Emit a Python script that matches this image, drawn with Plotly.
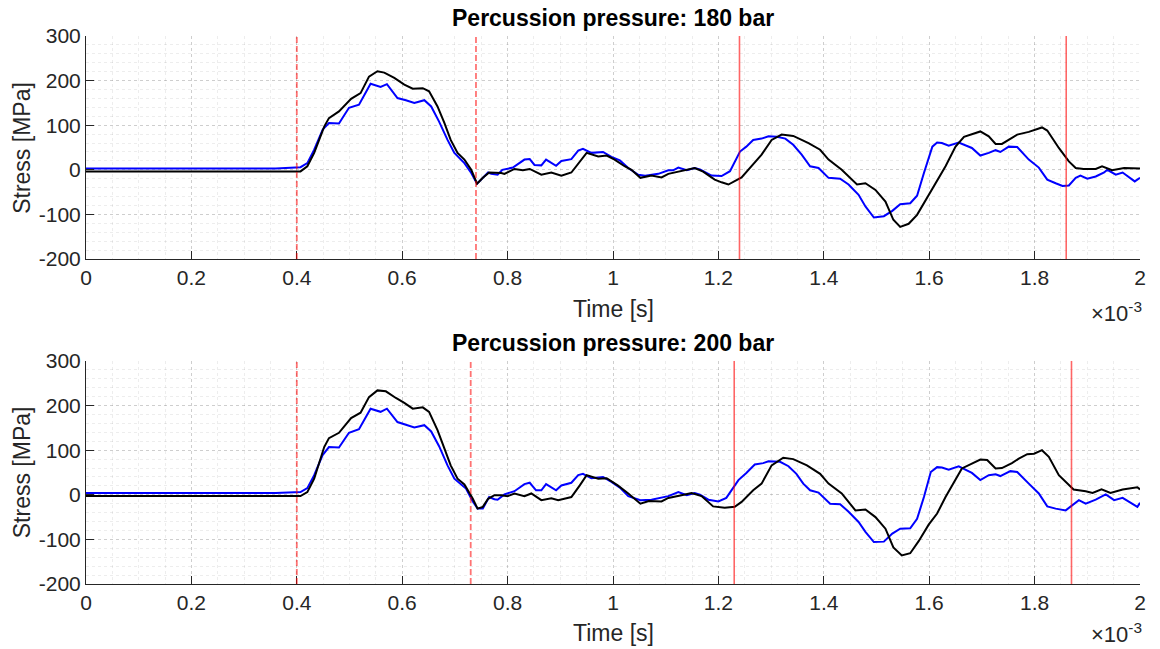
import plotly.graph_objects as go

# ---------------- data (time in ms, stress in MPa) ----------------
t_top_black = [0, 0.36, 0.407, 0.420, 0.433, 0.452, 0.461, 0.480, 0.503, 0.521, 0.537, 0.553, 0.566, 0.585,
               0.604, 0.620, 0.639, 0.651, 0.667, 0.680, 0.692, 0.705, 0.718, 0.731, 0.742, 0.753, 0.765,
               0.788, 0.794, 0.813, 0.829, 0.842, 0.864, 0.883, 0.902, 0.921, 0.937, 0.950, 0.972, 0.988,
               1.003, 1.022, 1.035, 1.052, 1.073, 1.092, 1.105, 1.124, 1.146, 1.155, 1.171, 1.193, 1.206,
               1.219, 1.244, 1.263, 1.282, 1.301, 1.320, 1.342, 1.371, 1.393, 1.409, 1.434, 1.450, 1.463,
               1.479, 1.498, 1.517, 1.532, 1.545, 1.561, 1.577, 1.596, 1.612, 1.631, 1.650, 1.666, 1.697,
               1.713, 1.726, 1.738, 1.767, 1.789, 1.814, 1.824, 1.846, 1.865, 1.878, 1.893, 1.916, 1.928,
               1.947, 1.970, 2.0]
s_top_black = [-4, -4, -3.5, 8, 38, 97, 116, 131, 159, 172, 209, 221, 218, 206,
               191, 182, 183, 176, 142, 105, 67, 38, 23, 0, -31, -18, -6,
               -7, -9, 2, -1, 2, -11, -6, -13, -6, 19, 38, 30, 32,
               23, 8, 0, -18, -13, -17, -9, -4, 2, 4, -4, -22, -28,
               -33, -17, 9, 34, 67, 79, 76, 60, 45, 23, 0, -18, -33,
               -30, -45, -71, -112, -128, -121, -101, -63, -33, 8, 52, 74, 86,
               75, 58, 58, 79, 85, 95, 88, 49, 19, 4, 2, 2, 8,
               -1, 4, 3]

t_top_blue = [0, 0.36, 0.407, 0.420, 0.433, 0.449, 0.461, 0.480, 0.499, 0.518, 0.540, 0.559, 0.571, 0.591,
              0.607, 0.623, 0.642, 0.655, 0.670, 0.686, 0.699, 0.718, 0.731, 0.742, 0.763, 0.769, 0.781,
              0.790, 0.810, 0.832, 0.842, 0.851, 0.864, 0.873, 0.892, 0.902, 0.921, 0.934, 0.943, 0.959,
              0.981, 0.997, 1.013, 1.029, 1.048, 1.061, 1.086, 1.105, 1.114, 1.124, 1.140, 1.155, 1.165,
              1.187, 1.206, 1.222, 1.241, 1.253, 1.266, 1.282, 1.295, 1.311, 1.327, 1.342, 1.358, 1.374,
              1.390, 1.409, 1.431, 1.447, 1.466, 1.479, 1.495, 1.514, 1.530, 1.545, 1.564, 1.577, 1.590,
              1.606, 1.615, 1.624, 1.637, 1.656, 1.681, 1.697, 1.713, 1.726, 1.735, 1.751, 1.767, 1.789,
              1.808, 1.824, 1.840, 1.853, 1.865, 1.878, 1.887, 1.900, 1.916, 1.932, 1.938, 1.954, 1.967,
              1.990, 2.0]
s_top_blue = [3, 3, 6, 15, 45, 90, 105, 104, 139, 146, 193, 186, 192, 161,
              156, 150, 156, 142, 108, 67, 38, 15, -7, -31, -6, -9, -11,
              0, 5, 23, 24, 11, 10, 23, 9, 20, 24, 43, 47, 38,
              40, 29, 21, 4, -11, -13, -9, -1, -1, 5, -1, 4, 1,
              -13, -14, -3, 41, 52, 67, 70, 75, 74, 70, 56, 34, 8,
              4, -18, -20, -33, -56, -82, -107, -104, -92, -77, -75, -58, -7,
              52, 61, 60, 54, 61, 49, 32, 38, 44, 40, 52, 51, 23,
              5, -22, -30, -36, -35, -18, -13, -20, -15, -6, 0, -11, -6,
              -26, -18]

t_bot_black = [0, 0.36, 0.407, 0.420, 0.433, 0.452, 0.461, 0.480, 0.503, 0.521, 0.537, 0.553, 0.569, 0.588,
               0.604, 0.620, 0.639, 0.651, 0.667, 0.680, 0.692, 0.705, 0.718, 0.734, 0.743, 0.753, 0.763,
               0.775, 0.788, 0.800, 0.813, 0.832, 0.845, 0.864, 0.883, 0.896, 0.921, 0.937, 0.950, 0.972,
               0.988, 1.009, 1.029, 1.052, 1.068, 1.092, 1.105, 1.130, 1.149, 1.168, 1.190, 1.212, 1.231,
               1.244, 1.266, 1.282, 1.301, 1.323, 1.342, 1.368, 1.393, 1.409, 1.434, 1.460, 1.479, 1.498,
               1.517, 1.532, 1.548, 1.564, 1.580, 1.599, 1.615, 1.631, 1.650, 1.662, 1.681, 1.697, 1.710,
               1.726, 1.738, 1.757, 1.770, 1.786, 1.799, 1.814, 1.827, 1.846, 1.874, 1.897, 1.910, 1.927,
               1.944, 1.967, 1.995, 2.0]
s_bot_black = [-3, -3, -3, 6, 36, 107, 127, 139, 172, 184, 219, 234, 232, 217,
               206, 193, 196, 186, 145, 104, 66, 36, 23, -9, -31, -27, -9,
               -1, -1, -3, 3, -3, 3, -12, -8, -12, -5, 21, 44, 36,
               37, 21, 3, -20, -14, -15, -7, -1, 4, -3, -26, -29, -27,
               -16, 10, 25, 66, 83, 80, 66, 47, 25, 3, -35, -33, -50,
               -76, -118, -136, -131, -104, -67, -42, -5, 33, 59, 70, 79, 78,
               59, 60, 71, 81, 91, 92, 100, 85, 44, 12, 8, 4, 12,
               4, 12, 17, 12]

t_bot_blue = [0, 0.36, 0.407, 0.420, 0.433, 0.449, 0.461, 0.480, 0.499, 0.518, 0.540, 0.559, 0.571, 0.591,
              0.607, 0.623, 0.642, 0.655, 0.670, 0.686, 0.699, 0.721, 0.734, 0.743, 0.753, 0.765, 0.775,
              0.781, 0.794, 0.813, 0.832, 0.842, 0.854, 0.864, 0.873, 0.892, 0.902, 0.921, 0.934, 0.943,
              0.959, 0.981, 0.997, 1.013, 1.029, 1.052, 1.073, 1.092, 1.105, 1.124, 1.140, 1.155, 1.165,
              1.181, 1.200, 1.215, 1.238, 1.253, 1.269, 1.285, 1.295, 1.317, 1.333, 1.348, 1.361, 1.374,
              1.390, 1.412, 1.431, 1.447, 1.466, 1.479, 1.495, 1.514, 1.530, 1.545, 1.564, 1.577, 1.590,
              1.603, 1.615, 1.624, 1.637, 1.656, 1.681, 1.697, 1.713, 1.726, 1.735, 1.754, 1.767, 1.789,
              1.808, 1.824, 1.840, 1.859, 1.875, 1.884, 1.897, 1.916, 1.935, 1.951, 1.967, 1.995, 2.0]
s_bot_blue = [4, 4, 6, 15, 44, 89, 107, 106, 139, 147, 193, 186, 193, 163,
              157, 151, 156, 142, 109, 66, 36, 14, -15, -31, -31, -5, -10,
              -11, 1, 8, 24, 27, 10, 10, 24, 10, 21, 27, 44, 47,
              37, 40, 29, 16, -3, -12, -11, -7, -3, 6, -1, 4, 0,
              -11, -15, -7, 33, 49, 68, 71, 75, 74, 64, 47, 25, 10,
              5, -20, -21, -38, -61, -83, -106, -105, -87, -76, -75, -54, -5,
              51, 62, 61, 56, 64, 49, 33, 44, 46, 42, 53, 51, 25,
              3, -26, -31, -35, -20, -12, -20, -11, 1, -12, -7, -27, -18]

titles = ["Percussion pressure: 180 bar", "Percussion pressure: 200 bar"]
dashed_top = [0.40, 0.74]
solid_top = [1.24, 1.86]
dashed_bot = [0.40, 0.73]
solid_bot = [1.23, 1.87]
x_tick_ms = [0, 0.2, 0.4, 0.6, 0.8, 1.0, 1.2, 1.4, 1.6, 1.8, 2.0]
x_tick_text = ["0", "0.2", "0.4", "0.6", "0.8", "1", "1.2", "1.4", "1.6", "1.8", "2"]
y_ticks = [-200, -100, 0, 100, 200, 300]
y_tick_text = ["-200", "-100", "0", "100", "200", "300"]

# ---------------- figure ----------------
FONT = "Liberation Sans, Arial, Helvetica, sans-serif"
TXT = "#262626"
MS = 1e-3

fig = go.Figure()
panels = [
    ("x", "y", t_top_black, s_top_black, t_top_blue, s_top_blue),
    ("x2", "y2", t_bot_black, s_bot_black, t_bot_blue, s_bot_blue),
]
for xa, ya, tb, sb, tbl, sbl in panels:
    fig.add_trace(go.Scatter(x=[v * MS for v in tbl], y=sbl, mode="lines",
                             line=dict(color="#0000FF", width=2), xaxis=xa, yaxis=ya, showlegend=False))
    fig.add_trace(go.Scatter(x=[v * MS for v in tb], y=sb, mode="lines",
                             line=dict(color="#000000", width=2), xaxis=xa, yaxis=ya, showlegend=False))

shapes = []
for xref, yref, dashed, solid in [("x", "y domain", dashed_top, solid_top),
                                  ("x2", "y2 domain", dashed_bot, solid_bot)]:
    for v in dashed:
        shapes.append(dict(type="line", xref=xref, yref=yref, x0=v * MS, x1=v * MS, y0=0, y1=1,
                           line=dict(color="rgba(255,0,0,0.55)", width=1.8, dash="6px,3px"), layer="above"))
    for v in solid:
        shapes.append(dict(type="line", xref=xref, yref=yref, x0=v * MS, x1=v * MS, y0=0, y1=1,
                           line=dict(color="rgba(255,0,0,0.6)", width=1.6), layer="above"))

GRID = "rgba(0,0,0,0.13)"
MINOR = "rgba(0,0,0,0.07)"

def xaxis(anchor):
    return dict(domain=[0, 1], anchor=anchor, range=[0, 2 * MS],
                tickvals=[v * MS for v in x_tick_ms], ticktext=x_tick_text,
                ticks="inside", ticklen=8, tickcolor=TXT, showline=True, linecolor=TXT, linewidth=1,
                showgrid=True, gridcolor=GRID, griddash="dot", gridwidth=1,
                minor=dict(dtick=0.05 * MS, showgrid=True, gridcolor=MINOR, griddash="dot"),
                zeroline=False, tickfont=dict(family=FONT, size=21, color=TXT), fixedrange=True)

def yaxis(anchor, dom):
    return dict(domain=dom, anchor=anchor, range=[-200, 300], tickvals=y_ticks, ticktext=y_tick_text,
                ticks="inside", ticklen=8, tickcolor=TXT, showline=True, linecolor=TXT, linewidth=1,
                showgrid=True, gridcolor=GRID, griddash="dot", gridwidth=1,
                minor=dict(dtick=20, showgrid=True, gridcolor=MINOR, griddash="dot"),
                zeroline=False, tickfont=dict(family=FONT, size=21, color=TXT), fixedrange=True)

annotations = []
ann_specs = [
    (titles[0], 1.033, 0.502, 0.497, 0.796),
    (titles[1], 0.440, -0.089, -0.090, 0.204),
]
for title, ty, xly, ey, yc in ann_specs:
    annotations.append(dict(text="<b>" + title + "</b>", xref="paper", yref="paper", x=0.5, y=ty,
                            xanchor="center", yanchor="middle", showarrow=False,
                            font=dict(family=FONT, size=23, color="#000000")))
    annotations.append(dict(text="Time [s]", xref="paper", yref="paper", x=0.5, y=xly,
                            xanchor="center", yanchor="middle", showarrow=False,
                            font=dict(family=FONT, size=23, color=TXT)))
    annotations.append(dict(text="×10<sup>-3</sup>", xref="paper", yref="paper", x=1.003, y=ey,
                            xanchor="right", yanchor="middle", showarrow=False, borderpad=0,
                            font=dict(family=FONT, size=22, color=TXT)))
    annotations.append(dict(text="Stress [MPa]", xref="paper", yref="paper", x=-0.0607, y=yc,
                            xanchor="center", yanchor="middle", textangle=-90, showarrow=False,
                            font=dict(family=FONT, size=23, color=TXT)))

fig.update_layout(
    width=1160, height=649,
    margin=dict(l=86, r=20, t=36, b=65),
    paper_bgcolor="white", plot_bgcolor="white",
    xaxis=xaxis("y"), yaxis=yaxis("x", [0.593, 1.0]),
    xaxis2=xaxis("y2"), yaxis2=yaxis("x2", [0.0, 0.407]),
    shapes=shapes, annotations=annotations, showlegend=False,
)

fig.write_html("out.html")
